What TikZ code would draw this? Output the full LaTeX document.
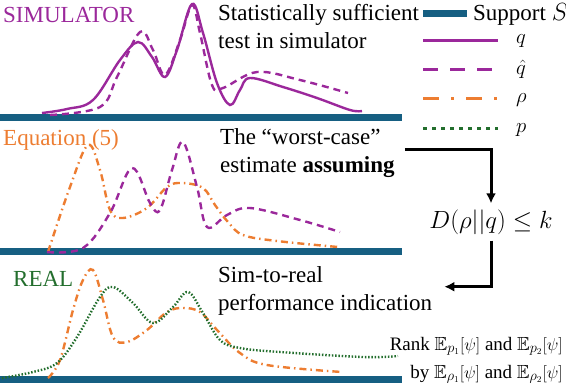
\documentclass[tikz,border=0pt]{standalone}
\usepackage{amssymb}
\usepackage{fontspec}
\setmainfont{Liberation Serif}
\usetikzlibrary{arrows.meta}
\definecolor{roxo}{RGB}{155,40,155}
\definecolor{laranja}{RGB}{237,125,49}
\definecolor{verde}{RGB}{35,110,45}
\definecolor{azul}{RGB}{22,95,130}
\begin{document}
\begin{tikzpicture}[
        x=1pt, y=-1pt,
        every node/.style={font=\fontsize{23}{27.5}\selectfont, inner sep=0pt},
        suporte/.style={line width=7pt, azul},
        qsim/.style={line width=2.4pt, roxo},
        qhat/.style={line width=2.4pt, roxo, dash pattern=on 7pt off 5pt},
        rho/.style={line width=2.4pt, laranja, dash pattern=on 7pt off 4pt on 1.5pt off 4pt},
        preal/.style={line width=2.4pt, verde, dash pattern=on 1.5pt off 1.8pt},
        painel/.style={anchor=base west},
        legenda/.style={anchor=base west, font=\fontsize{21}{24}\selectfont},
        texto/.style={anchor=base west, align=left},
        seta/.style={-{Latex[length=10pt, width=10pt]}, line width=3pt}
    ]
        \useasboundingbox (0,0) rectangle (566,384);

        % Painel simulador
        \node[painel, roxo] (lsim) at (3,22) {SIMULATOR};
        \node[texto] (simtxt) at (218,48) {Statistically sufficient\\test in simulator};
        \draw[suporte] (0,117) -- (402,117);
        \draw[qsim] plot[smooth, tension=0.6] coordinates {(42,113) (67,109) (93,100) (120,60)
            (138,42) (152,57) (165,77) (177,50) (192,4) (203,33) (217,83) (230,105) (240,90)
            (250,78) (283,87) (317,98) (350,110) (362,111)};
        \draw[qhat] plot[smooth, tension=0.6] coordinates {(50,115) (100,107) (117,77) (140,32)
            (153,50) (165,75) (180,40) (192,5) (200,33) (212,85) (223,88) (257,72) (300,80) (348,93)};

        % Painel equacao (5)
        \node[painel, laranja] (leq) at (3,145) {Equation (5)};
        \node[texto] (worst) at (220,172) {The ``worst-case''\\estimate \textbf{assuming}};
        \draw[suporte] (0,251) -- (402,251);
        \draw[rho] plot[smooth, tension=0.6] coordinates {(48,252) (70,187) (88,145) (100,170)
            (110,210) (123,218) (147,208) (167,187) (182,183) (203,188) (215,205) (228,222)
            (243,235) (277,241) (338,247)};
        \draw[qhat] plot[smooth, tension=0.6] coordinates {(47,252) (83,248) (110,213) (132,168)
            (150,203) (160,210) (172,170) (183,142) (197,187) (207,227) (227,215) (250,208)
            (300,220) (340,232)};

        % Painel real
        \node[painel, verde] (lreal) at (13,286) {REAL};
        \node[texto] (sim) at (218,310) {Sim-to-real\\performance indication};
        \draw[suporte] (0,379) -- (402,379);
        \draw[rho] plot[smooth, tension=0.6] coordinates {(48,378) (60,360) (73,310) (83,280)
            (93,270) (103,300) (113,337) (127,342) (147,330) (167,312) (183,308) (200,312)
            (217,330) (240,353) (267,365) (342,372)};
        \draw[preal] plot[smooth, tension=0.6] coordinates {(2,378) (33,372) (57,363) (77,337)
            (100,297) (113,287) (133,303) (153,323) (173,307) (188,292) (203,313) (220,340)
            (240,348) (280,352) (363,357) (398,356)};
        \node[anchor=base east, align=right, font=\fontsize{19}{28}\selectfont] (rank) at (563,378)
            {Rank $\mathbb{E}_{p_1}[\psi]$ and $\mathbb{E}_{p_2}[\psi]$\\
             by $\mathbb{E}_{\rho_1}[\psi]$ and $\mathbb{E}_{\rho_2}[\psi]$};

        % Legenda
        \draw[suporte] (423,13) -- (467,13);
        \node[painel] (lsup) at (473,20) {Support $S$};
        \draw[qsim, line width=3pt] (423,40) -- (498,40);
        \node[legenda] (lq) at (516,43) {$q$};
        \draw[qhat, line width=3pt, dash pattern=on 15pt off 12pt] (423,69) -- (498,69);
        \node[legenda] (lqhat) at (516,74) {$\hat{q}$};
        \draw[rho, line width=3pt, dash pattern=on 16pt off 12pt on 3pt off 12pt] (423,98) -- (498,98);
        \node[legenda] (lrho) at (516,102) {$\rho$};
        \draw[preal, line width=3pt, dash pattern=on 4pt off 5pt] (423,128) -- (498,128);
        \node[legenda] (lp) at (516,132) {$p$};

        % Setas
        \node[inner sep=6pt] (div) at (491,222) {$D(\rho||q)\leq k$};
        \draw[seta] ([xshift=10pt, yshift=3pt]worst.east) -| (div.north);
        \draw[seta] (div.south) |- ([xshift=12pt, yshift=4pt]sim.east);

    \end{tikzpicture}
\end{document}
